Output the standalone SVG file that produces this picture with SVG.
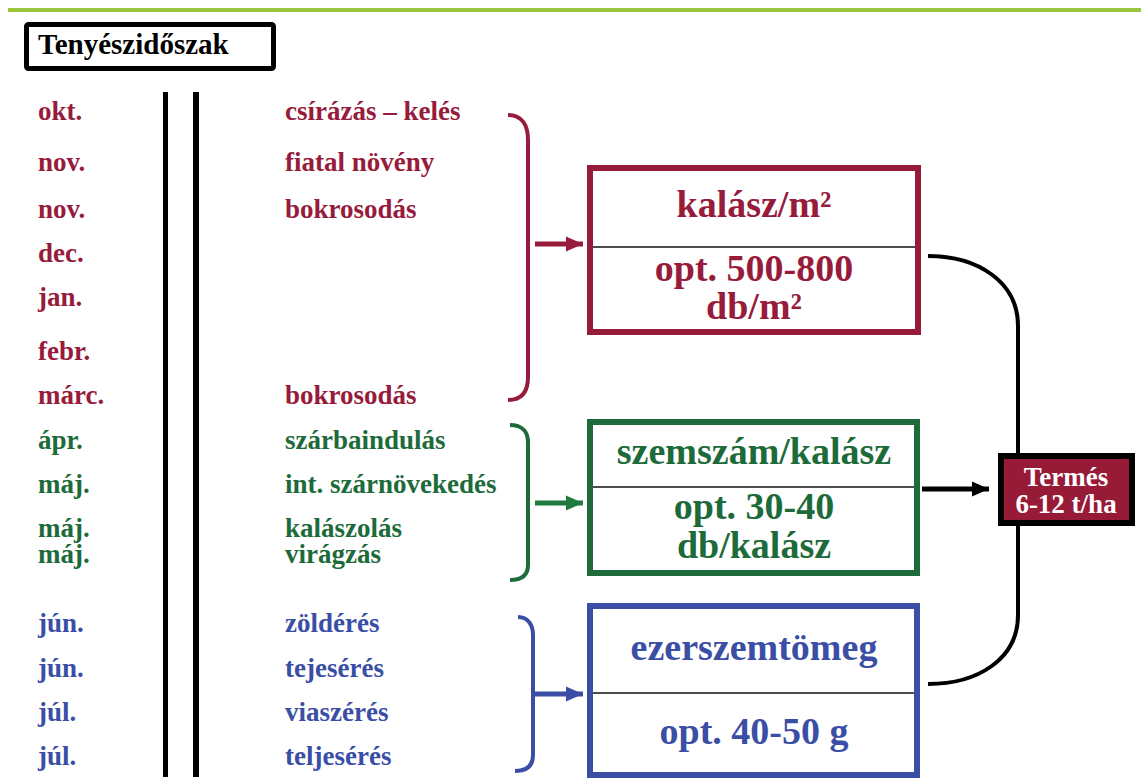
<svg xmlns="http://www.w3.org/2000/svg" width="1141" height="780" viewBox="0 0 1141 780" font-family="Liberation Serif, Times New Roman, serif" font-weight="bold">
<style>
.lbl{font-size:27px}
.red{fill:#971b3b}
.grn{fill:#1d6b3a}
.blu{fill:#3b4ea6}
.bt{font-size:38px;text-anchor:middle}
.div{stroke:#111;stroke-width:1.6}
.conn{fill:none;stroke:#000;stroke-width:4}
</style>
<defs>
<marker id="hr" markerUnits="userSpaceOnUse" markerWidth="18" markerHeight="18" refX="17" refY="9" orient="auto"><path d="M0,1.5 L17,9 L0,16.5 z" fill="#971b3b"/></marker>
<marker id="hg" markerUnits="userSpaceOnUse" markerWidth="18" markerHeight="18" refX="17" refY="9" orient="auto"><path d="M0,1.5 L17,9 L0,16.5 z" fill="#1f7a3e"/></marker>
<marker id="hb" markerUnits="userSpaceOnUse" markerWidth="18" markerHeight="18" refX="17" refY="9" orient="auto"><path d="M0,1.5 L17,9 L0,16.5 z" fill="#3b4ea6"/></marker>
<marker id="hk" markerUnits="userSpaceOnUse" markerWidth="18" markerHeight="18" refX="17" refY="9" orient="auto"><path d="M0,1.5 L17,9 L0,16.5 z" fill="#000"/></marker>
</defs>
<rect width="1141" height="780" fill="#fff"/>
<line x1="8" y1="10" x2="1141" y2="10" stroke="#9bc43d" stroke-width="4"/>

<g id="title">
<rect x="26.5" y="24.5" width="247" height="44" rx="2" fill="#fff" stroke="#000" stroke-width="5"/>
<text x="38" y="54" font-size="29" fill="#000">Tenyészidőszak</text>
</g>

<g id="timeline">
<line x1="165.5" y1="92" x2="165.5" y2="777" stroke="#000" stroke-width="5"/>
<line x1="196" y1="92" x2="196" y2="777" stroke="#000" stroke-width="6"/>
</g>

<g id="months">
<text class="lbl red" x="38" y="120">okt.</text>
<text class="lbl red" x="38" y="171">nov.</text>
<text class="lbl red" x="38" y="218">nov.</text>
<text class="lbl red" x="38" y="262">dec.</text>
<text class="lbl red" x="38" y="306">jan.</text>
<text class="lbl red" x="38" y="360">febr.</text>
<text class="lbl red" x="38" y="404">márc.</text>
<text class="lbl grn" x="38" y="449">ápr.</text>
<text class="lbl grn" x="38" y="493">máj.</text>
<text class="lbl grn" x="38" y="537">máj.</text>
<text class="lbl grn" x="38" y="563">máj.</text>
<text class="lbl blu" x="38" y="632">jún.</text>
<text class="lbl blu" x="38" y="677">jún.</text>
<text class="lbl blu" x="38" y="721">júl.</text>
<text class="lbl blu" x="38" y="765">júl.</text>
</g>

<g id="stages">
<text class="lbl red" x="285" y="120">csírázás – kelés</text>
<text class="lbl red" x="285" y="171">fiatal növény</text>
<text class="lbl red" x="285" y="218">bokrosodás</text>
<text class="lbl red" x="285" y="404">bokrosodás</text>
<text class="lbl grn" x="285" y="449">szárbaindulás</text>
<text class="lbl grn" x="285" y="493">int. szárnövekedés</text>
<text class="lbl grn" x="285" y="537">kalászolás</text>
<text class="lbl grn" x="285" y="563">virágzás</text>
<text class="lbl blu" x="285" y="632">zöldérés</text>
<text class="lbl blu" x="285" y="677">tejesérés</text>
<text class="lbl blu" x="285" y="721">viaszérés</text>
<text class="lbl blu" x="285" y="765">teljesérés</text>
</g>

<g id="box-kalasz">
<rect x="590" y="168" width="328" height="164" fill="#fff" stroke="#971b3b" stroke-width="6"/>
<line class="div" x1="593" y1="247" x2="915" y2="247"/>
<text class="bt red" x="754" y="217">kalász/m²</text>
<text class="bt red" x="754" y="281">opt. 500-800</text>
<text class="bt red" x="754" y="319">db/m²</text>
</g>

<g id="box-szemszam">
<rect x="590" y="422" width="327" height="151" fill="#fff" stroke="#1d6b3a" stroke-width="6"/>
<line class="div" x1="593" y1="487" x2="914" y2="487"/>
<text class="bt grn" x="754" y="464">szemszám/kalász</text>
<text class="bt grn" x="754" y="519">opt. 30-40</text>
<text class="bt grn" x="754" y="558">db/kalász</text>
</g>

<g id="box-ezerszem">
<rect x="590" y="606" width="327" height="169" fill="#fff" stroke="#3b4ea6" stroke-width="6"/>
<line class="div" x1="593" y1="693" x2="914" y2="693"/>
<text class="bt blu" x="754" y="660">ezerszemtömeg</text>
<text class="bt blu" x="754" y="744">opt. 40-50 g</text>
</g>

<g id="termes">
<rect x="1001" y="456" width="131" height="67" fill="#971a37" stroke="#000" stroke-width="6"/>
<text x="1066" y="486" font-size="27" text-anchor="middle" fill="#fff">Termés</text>
<text x="1066" y="513" font-size="27" text-anchor="middle" fill="#fff">6-12 t/ha</text>
</g>

<g id="connectors">
<path d="M508,115 C522,115 528,125 528,140 L528,377 C528,392 522,400 508,400" fill="none" stroke="#971b3b" stroke-width="4"/>
<line x1="535" y1="244" x2="583" y2="244" stroke="#971b3b" stroke-width="5" marker-end="url(#hr)"/>
<path d="M510,425 C522,425 528,432 528,442 L528,565 C528,575 522,580 510,580" fill="none" stroke="#1d6b3a" stroke-width="4"/>
<line x1="535" y1="503" x2="583" y2="503" stroke="#1f7a3e" stroke-width="5" marker-end="url(#hg)"/>
<path d="M518,617 C528,617 533,625 533,635 L533,755 C533,765 528,771 515,771" fill="none" stroke="#3b4ea6" stroke-width="4"/>
<line x1="533" y1="694" x2="583" y2="694" stroke="#3b4ea6" stroke-width="5" marker-end="url(#hb)"/>
<path class="conn" d="M928,256 C978,256 1018,282 1018,326 L1018,453"/>
<path class="conn" d="M1018,526 L1018,615 C1018,659 978,684 928,684"/>
<line x1="922" y1="489" x2="989" y2="489" stroke="#000" stroke-width="5" marker-end="url(#hk)"/>
</g>
</svg>
